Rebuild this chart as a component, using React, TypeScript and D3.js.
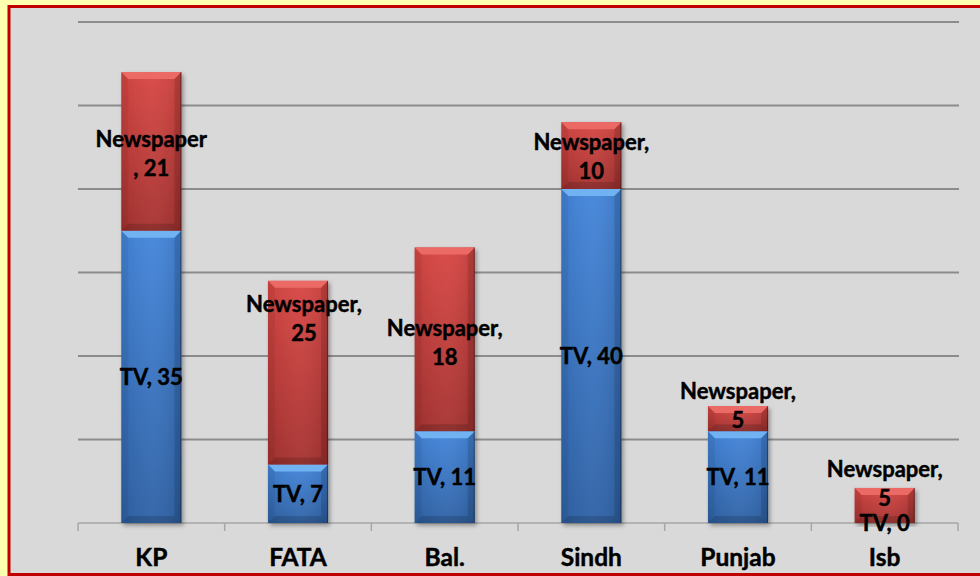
import * as d3 from "d3";

// categories and values
const regions = ["KP", "FATA", "Bal.", "Sindh", "Punjab", "Isb"];
const tv = [35, 7, 11, 40, 11, 0];
// drawn height of the newspaper segments (as they appear in the picture)
const newspaper = [19, 22, 22, 8, 3, 4.2];
// values written in the newspaper data labels
const newspaperLabels = [21, 25, 18, 10, 5, 5];
const yTicks = [10, 20, 30, 40, 50, 60];

// label nudges (px), the original labels were dragged by hand
const newsShiftY = [2, -54, 3, 1, -13, -22];
const newsShiftX = [0, 6, 0, 0, 0, 0];

const W = 980;
const H = 576;
const FONT = "Lato, 'Liberation Sans', sans-serif";

const x = d3.scaleBand<string>().domain(regions).range([78, 958]);
const y = d3.scaleLinear().domain([0, 60]).range([523, 22]);
const barW = x.bandwidth() * 0.41;

type Seg = { x0: number; y0: number; w: number; h: number };

const BevelBar = ({ s, kind }: { s: Seg; kind: "tv" | "news" }) => {
  if (s.h <= 0) return null;
  const b = Math.min(7, s.h / 2);
  const { x0, y0, w, h } = s;
  const light = kind === "tv" ? "#6fb2f2" : "#ec6a66";
  return (
    <g>
      <rect x={x0} y={y0} width={w} height={h} fill={`url(#grad-${kind})`} />
      <rect x={x0} y={y0} width={w} height={h} fill="url(#grad-side)" />
      <polygon
        points={`${x0},${y0} ${x0 + w},${y0} ${x0 + w - b},${y0 + b} ${x0 + b},${y0 + b}`}
        fill={light}
      />
      <polygon
        points={`${x0 + w},${y0} ${x0 + w},${y0 + h} ${x0 + w - b},${y0 + h - b} ${x0 + w - b},${y0 + b}`}
        fill="#000"
        opacity={0.12}
      />
      <polygon
        points={`${x0},${y0 + h} ${x0 + w},${y0 + h} ${x0 + w - b},${y0 + h - b} ${x0 + b},${y0 + h - b}`}
        fill="#000"
        opacity={0.15}
      />
      <polygon
        points={`${x0},${y0} ${x0 + b},${y0 + b} ${x0 + b},${y0 + h - b} ${x0},${y0 + h}`}
        fill="#000"
        opacity={0.05}
      />
      <line x1={x0 + w - 0.5} x2={x0 + w - 0.5} y1={y0} y2={y0 + h} stroke="#000" strokeOpacity={0.35} />
    </g>
  );
};

const App = () => {
  const bars = regions.map((r, i) => {
    const cx = (x(r) as number) + x.bandwidth() / 2;
    const x0 = cx - barW / 2;
    const tvTop = y(tv[i]);
    const newsTop = y(tv[i] + newspaper[i]);
    return {
      r,
      i,
      cx,
      tvSeg: { x0, y0: tvTop, w: barW, h: y(0) - tvTop },
      newsSeg: { x0, y0: newsTop, w: barW, h: tvTop - newsTop },
    };
  });

  return (
    <svg width={W} height={H} style={{ position: "absolute", left: 0, top: 0 }}>
      <defs>
        <linearGradient id="grad-tv" x1="0" x2="0" y1="0" y2="1">
          <stop offset="0" stopColor="#4385da" />
          <stop offset="1" stopColor="#2f62a6" />
        </linearGradient>
        <linearGradient id="grad-news" x1="0" x2="0" y1="0" y2="1">
          <stop offset="0" stopColor="#d84744" />
          <stop offset="1" stopColor="#a63230" />
        </linearGradient>
        <linearGradient id="grad-side" x1="0" x2="1" y1="0" y2="0">
          <stop offset="0" stopColor="#000" stopOpacity={0.06} />
          <stop offset="0.5" stopColor="#fff" stopOpacity={0.04} />
          <stop offset="1" stopColor="#000" stopOpacity={0.1} />
        </linearGradient>
        <filter id="shadow" x="-20%" y="-5%" width="150%" height="115%">
          <feDropShadow dx="2" dy="2.5" stdDeviation="2" floodColor="#000" floodOpacity="0.35" />
        </filter>
      </defs>

      {/* frame */}
      <rect x={0} y={0} width={W} height={H} fill="#ffffb0" />
      <rect x={9} y={6.5} width={1000} height={568} fill="#d9d9d9" stroke="#c00000" strokeWidth={3} />

      {/* gridlines */}
      {yTicks.map((t) => (
        <line key={t} x1={78} x2={959} y1={y(t)} y2={y(t)} stroke="#8c8c8c" strokeWidth={2} />
      ))}

      {/* category axis */}
      <line x1={78} x2={958} y1={y(0)} y2={y(0)} stroke="#a6a6a6" strokeWidth={1.5} />
      {[...regions.map((r) => x(r) as number), 958].map((t, k) => (
        <line key={k} x1={t} x2={t} y1={y(0)} y2={y(0) + 8} stroke="#a6a6a6" strokeWidth={1.5} />
      ))}

      {/* bars */}
      {bars.map((d) => (
        <g key={d.r} filter="url(#shadow)">
          <BevelBar s={d.tvSeg} kind="tv" />
          <BevelBar s={d.newsSeg} kind="news" />
        </g>
      ))}

      {/* data labels */}
      <g fontFamily={FONT} fontWeight="bold" fontSize={22} fill="#000" stroke="#000" strokeWidth={0.45} textAnchor="middle">
        {bars.map((d) => {
          const tvMid = d.tvSeg.y0 + d.tvSeg.h / 2;
          const newsMid = d.newsSeg.y0 + d.newsSeg.h / 2 + newsShiftY[d.i];
          const v = newspaperLabels[d.i];
          const lines = d.r === "KP" ? ["Newspaper", `, ${v}`] : ["Newspaper,", `${v}`];
          return (
            <g key={d.r}>
              <text x={d.cx} y={tvMid + 8}>{`TV, ${tv[d.i]}`}</text>
              {lines.map((l, k) => (
                <text key={k} x={d.cx + newsShiftX[d.i]} y={newsMid - 14.5 + k * 29 + 8}>
                  {l}
                </text>
              ))}
            </g>
          );
        })}
      </g>

      {/* category labels */}
      <g fontFamily={FONT} fontWeight="bold" fontSize={24.5} fill="#000" stroke="#000" strokeWidth={0.45} textAnchor="middle">
        {bars.map((d) => (
          <text key={d.r} x={d.cx} y={566}>
            {d.r}
          </text>
        ))}
      </g>
    </svg>
  );
};

export default App;
